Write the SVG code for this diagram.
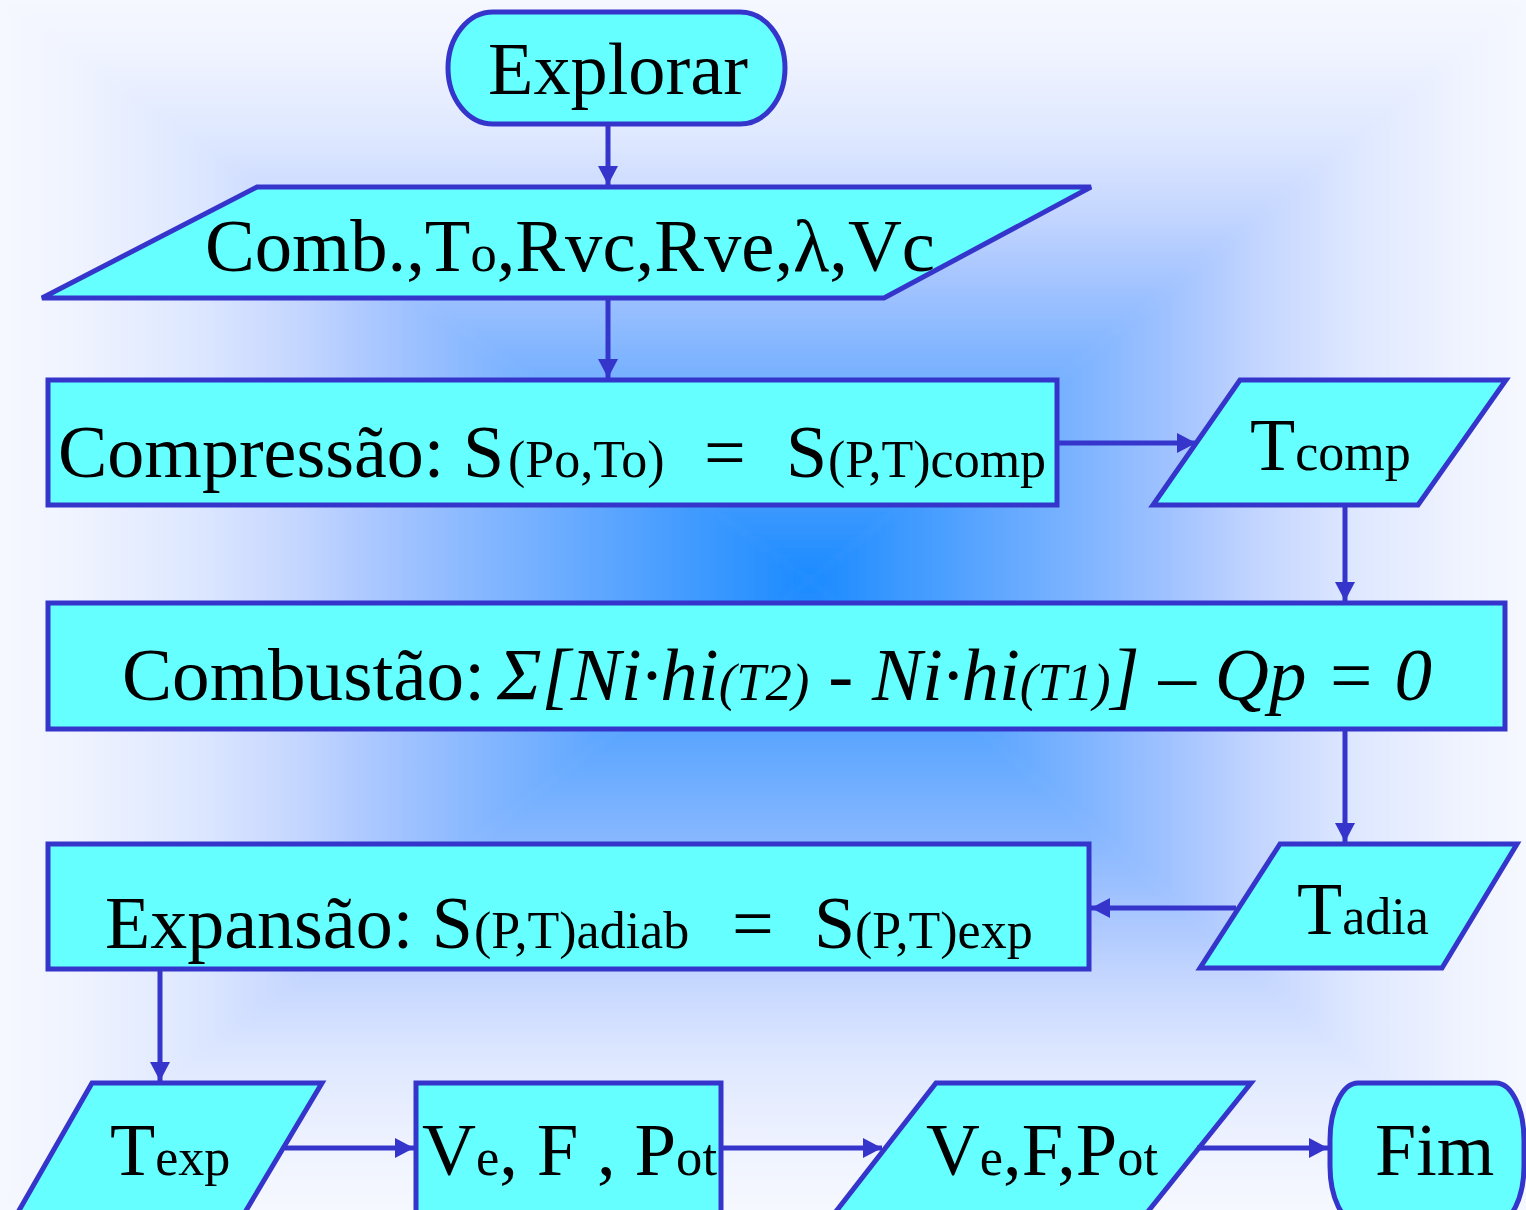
<svg xmlns="http://www.w3.org/2000/svg" width="1526" height="1210" viewBox="0 0 1526 1210">
  <defs>
    <!-- shared colour ramp: pale at the page edge, saturated blue at the centre -->
    <linearGradient id="ramp">
      <stop offset="0" stop-color="#F6F8FF"/>
      <stop offset="0.1" stop-color="#EFF3FF"/>
      <stop offset="0.25" stop-color="#DCE6FF"/>
      <stop offset="0.37" stop-color="#C4D6FF"/>
      <stop offset="0.47" stop-color="#A8C6FF"/>
      <stop offset="0.6" stop-color="#84B6FF"/>
      <stop offset="0.75" stop-color="#5CA6FF"/>
      <stop offset="0.9" stop-color="#3596FF"/>
      <stop offset="1" stop-color="#1A8AFF"/>
    </linearGradient>
    <linearGradient id="gL" href="#ramp" gradientUnits="userSpaceOnUse" x1="0" y1="0" x2="810" y2="0"/>
    <linearGradient id="gR" href="#ramp" gradientUnits="userSpaceOnUse" x1="1526" y1="0" x2="810" y2="0"/>
    <linearGradient id="gT" href="#ramp" gradientUnits="userSpaceOnUse" x1="0" y1="0" x2="0" y2="580"/>
    <linearGradient id="gB" href="#ramp" gradientUnits="userSpaceOnUse" x1="0" y1="1210" x2="0" y2="580"/>
    <filter id="soft" x="0" y="0" width="1" height="1">
      <feGaussianBlur stdDeviation="3"/>
    </filter>
    <marker id="arr" markerUnits="userSpaceOnUse" markerWidth="22" markerHeight="22" refX="19" refY="10" orient="auto">
      <path d="M0,0 L19,10 L0,20 z" fill="#3535CC"/>
    </marker>
    <style>
      .shape { fill: #66FFFF; stroke: #3535CC; stroke-width: 5; stroke-linejoin: miter; }
      .link { fill: none; stroke: #3535CC; stroke-width: 5; marker-end: url(#arr); }
      .t { font-family: "Liberation Serif", "Times New Roman", serif; font-size: 74px; fill: #000; }
      .s { font-size: 52px; }
      .i { font-style: italic; }
    </style>
  </defs>

  <!-- backdrop: rectangular fade from the centre outwards -->
  <rect x="0" y="0" width="1526" height="1210" fill="#F6F8FF"/>
  <g filter="url(#soft)">
    <polygon points="-2,-2 810,580 -2,1212" fill="url(#gL)"/>
    <polygon points="1528,-2 810,580 1528,1212" fill="url(#gR)"/>
    <polygon points="-2,-2 1528,-2 810,580" fill="url(#gT)"/>
    <polygon points="-2,1212 1528,1212 810,580" fill="url(#gB)"/>
  </g>

  <!-- start -->
  <g id="explorar">
    <rect class="shape" x="448" y="12" width="337" height="112" rx="45" ry="56"/>
    <text class="t" x="488" y="94" textLength="260" lengthAdjust="spacingAndGlyphs">Explorar</text>
  </g>

  <!-- inputs -->
  <g id="entradas">
    <polygon class="shape" points="257,187 1091,187 884,298 42,298"/>
    <text class="t" x="205" y="271" textLength="730" lengthAdjust="spacingAndGlyphs">Comb.,T<tspan class="s">o</tspan>,Rvc,Rve,λ,Vc</text>
  </g>

  <!-- compression -->
  <g id="compressao">
    <rect class="shape" x="48" y="380" width="1009" height="125"/>
    <text class="t" y="477"><tspan x="58">Compressão: S</tspan><tspan class="s" x="508">(Po,To)</tspan><tspan x="704">=</tspan><tspan x="786">S</tspan><tspan class="s" x="828">(P,T)comp</tspan></text>
  </g>

  <g id="tcomp">
    <polygon class="shape" points="1240,380 1506,380 1418,505 1153,505"/>
    <text class="t" x="1250" y="470">T<tspan class="s">comp</tspan></text>
  </g>

  <!-- combustion -->
  <g id="combustao">
    <rect class="shape" x="48" y="603" width="1457" height="126"/>
    <text class="t" x="122" y="700" textLength="363" lengthAdjust="spacingAndGlyphs">Combustão:</text>
    <text class="t i" x="497" y="700" textLength="935" lengthAdjust="spacingAndGlyphs">Σ[Ni·hi<tspan class="s">(T2)</tspan> - Ni·hi<tspan class="s">(T1)</tspan>] – Qp = 0</text>
  </g>

  <g id="tadia">
    <polygon class="shape" points="1280,844 1517,844 1442,968 1200,968"/>
    <text class="t" x="1297" y="934">T<tspan class="s">adia</tspan></text>
  </g>

  <!-- expansion -->
  <g id="expansao">
    <rect class="shape" x="48" y="844" width="1041" height="125"/>
    <text class="t" y="948"><tspan x="105">Expansão: S</tspan><tspan class="s" x="474">(P,T)adiab</tspan><tspan x="732">=</tspan><tspan x="814">S</tspan><tspan class="s" x="855">(P,T)exp</tspan></text>
  </g>

  <!-- bottom row -->
  <g id="texp">
    <polygon class="shape" points="92,1083 322,1083 244,1214 17,1214"/>
    <text class="t" x="110" y="1175">T<tspan class="s">exp</tspan></text>
  </g>

  <g id="calculo">
    <rect class="shape" x="416" y="1083" width="305" height="131"/>
    <text class="t" x="422" y="1175" textLength="295" lengthAdjust="spacingAndGlyphs">V<tspan class="s">e</tspan>, F , P<tspan class="s">ot</tspan></text>
  </g>

  <g id="saidas">
    <polygon class="shape" points="936,1083 1251,1083 1146,1214 834,1214"/>
    <text class="t" x="926" y="1175" textLength="232" lengthAdjust="spacingAndGlyphs">V<tspan class="s">e</tspan>,F,P<tspan class="s">ot</tspan></text>
  </g>

  <g id="fim">
    <rect class="shape" x="1330" y="1083" width="194" height="140" rx="28" ry="57"/>
    <text class="t" x="1375" y="1175">Fim</text>
  </g>

  <!-- connectors -->
  <g id="connectors">
    <line class="link" x1="608" y1="126" x2="608" y2="185"/>
    <line class="link" x1="608" y1="300" x2="608" y2="378"/>
    <line class="link" x1="1059" y1="443" x2="1196" y2="443"/>
    <line class="link" x1="1345" y1="507" x2="1345" y2="601"/>
    <line class="link" x1="1345" y1="731" x2="1345" y2="842"/>
    <line class="link" x1="1236" y1="908" x2="1091" y2="908"/>
    <line class="link" x1="160" y1="971" x2="160" y2="1081"/>
    <line class="link" x1="285" y1="1148" x2="414" y2="1148"/>
    <line class="link" x1="723" y1="1148" x2="882" y2="1148"/>
    <line class="link" x1="1197" y1="1148" x2="1328" y2="1148"/>
  </g>
</svg>
